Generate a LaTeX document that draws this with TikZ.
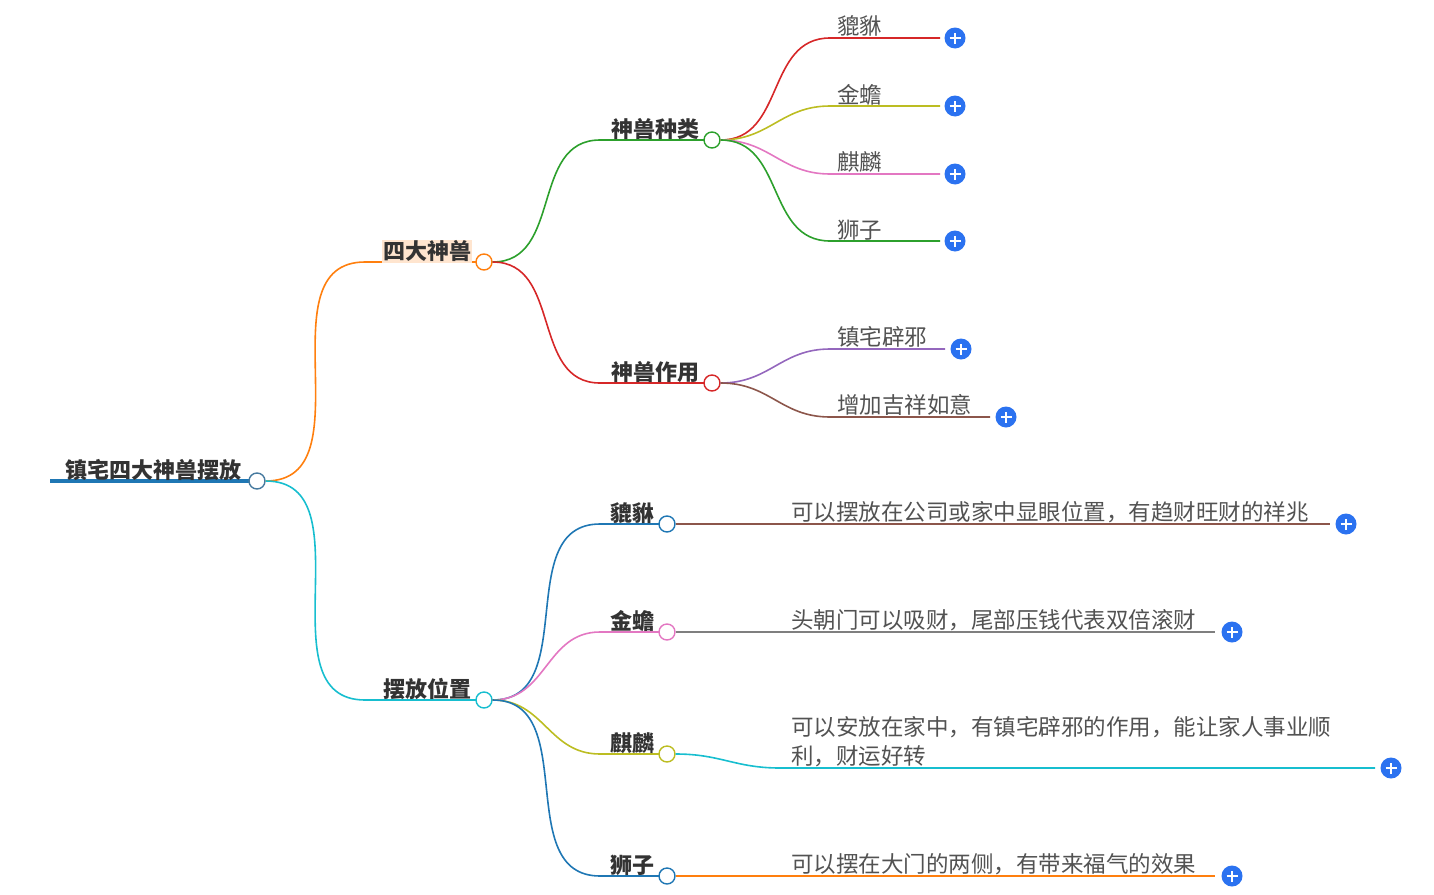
\documentclass[tikz,border=0pt]{standalone}
\usepackage{fontspec}
\setmainfont{Noto Sans CJK SC}
\definecolor{cblue}{HTML}{1F77B4}
\definecolor{corange}{HTML}{FF7F0E}
\definecolor{cgreen}{HTML}{2CA02C}
\definecolor{cred}{HTML}{D62728}
\definecolor{cpurple}{HTML}{9467BD}
\definecolor{cbrown}{HTML}{8C564B}
\definecolor{cpink}{HTML}{E377C2}
\definecolor{cgray}{HTML}{7F7F7F}
\definecolor{colive}{HTML}{BCBD22}
\definecolor{ccyan}{HTML}{17BECF}
\definecolor{cplus}{HTML}{2B72F0}
\definecolor{ctext}{HTML}{333333}
\begin{document}
\begin{tikzpicture}[
        x=1pt, y=-1pt,
        link/.style={line width=1.6pt, out=0, in=180, looseness=1.1},
        knob/.style={circle, draw, fill=white, line width=1.4pt, minimum size=16pt, inner sep=0pt},
        plus/.style={circle, fill=cplus, minimum size=21pt, inner sep=0pt, path picture={
                \draw[white, line width=1.8pt] ([xshift=-5.5pt]path picture bounding box.center) -- ([xshift=5.5pt]path picture bounding box.center);
                \draw[white, line width=1.8pt] ([yshift=-5.5pt]path picture bounding box.center) -- ([yshift=5.5pt]path picture bounding box.center);}},
        head/.style={font=\bfseries\fontsize{22}{24}\selectfont, text=ctext, inner sep=1pt, anchor=south},
        leaf/.style={font=\fontsize{22.5}{29}\selectfont, text=ctext!85, inner sep=1pt, anchor=south west},
    ]
    \useasboundingbox (0,0) rectangle (1434,894);

    % root
    \draw[cblue, line width=4pt] (50,481) -- (257,481);
    \node[head] (root) at (153,482) {镇宅四大神兽摆放};
    \node[knob, draw=cblue!60!gray] (rootk) at (257,481) {};

    % level 1
    \draw[corange, link] (rootk) to (365,262) -- (484,262);
    \node[head, fill=corange!20] (sdss) at (427,263) {四大神兽};
    \node[knob, draw=corange] (sdssk) at (484,262) {};
    \draw[ccyan, link] (rootk) to (365,700) -- (484,700);
    \node[head] (bfwz) at (427,701) {摆放位置};
    \node[knob, draw=ccyan] (bfwzk) at (484,700) {};

    % level 2 (四大神兽)
    \draw[cgreen, link] (sdssk) to (600,140) -- (712,140);
    \node[head] (zl) at (655,141) {神兽种类};
    \node[knob, draw=cgreen] (zlk) at (712,140) {};
    \draw[cred, link] (sdssk) to (600,383) -- (712,383);
    \node[head] (zy) at (655,384) {神兽作用};
    \node[knob, draw=cred] (zyk) at (712,383) {};

    % leaves of 神兽种类
    \foreach \name/\txt/\yy/\col in {a/貔貅/38/cred, b/金蟾/106/colive, c/麒麟/174/cpink, d/狮子/241/cgreen} {
        \draw[\col, link] (zlk) to (830,\yy) -- (940,\yy);
        \node[leaf] (zl\name) at (836,\yy) {\txt};
        \node[plus] (zlp\name) at (955,\yy) {};
    }

    % leaves of 神兽作用
    \draw[cpurple, link] (zyk) to (830,349) -- (945,349);
    \node[leaf] (zya) at (836,349) {镇宅辟邪};
    \node[plus] (zypa) at (961,349) {};
    \draw[cbrown, link] (zyk) to (830,417) -- (990,417);
    \node[leaf] (zyb) at (836,417) {增加吉祥如意};
    \node[plus] (zypb) at (1006,417) {};

    % level 2 (摆放位置)
    \foreach \name/\txt/\yy/\col in {a/貔貅/524/cblue, b/金蟾/632/cpink, c/麒麟/754/colive, d/狮子/876/cblue} {
        \draw[\col, link] (bfwzk) to (600,\yy) -- (667,\yy);
        \node[head] (wz\name) at (632,\yy+1) {\txt};
        \node[knob, draw=\col] (wzk\name) at (667,\yy) {};
    }

    % leaves of 摆放位置
    \draw[cbrown, line width=1.6pt] (wzka) -- (1330,524);
    \node[leaf] (wzta) at (790,524) {可以摆放在公司或家中显眼位置，有趋财旺财的祥兆};
    \node[plus] (wzpa) at (1346,524) {};
    \draw[cgray, line width=1.6pt] (wzkb) -- (1215,632);
    \node[leaf] (wztb) at (790,632) {头朝门可以吸财，尾部压钱代表双倍滚财};
    \node[plus] (wzpb) at (1232,632) {};
    \draw[ccyan, link] (wzkc) to (780,768) -- (1375,768);
    \node[leaf, align=left] (wztc) at (790,768) {可以安放在家中，有镇宅辟邪的作用，能让家人事业顺\\利，财运好转};
    \node[plus] (wzpc) at (1391,768) {};
    \draw[corange, line width=1.6pt] (wzkd) -- (1215,876);
    \node[leaf] (wztd) at (790,876) {可以摆在大门的两侧，有带来福气的效果};
    \node[plus] (wzpd) at (1232,876) {};
\end{tikzpicture}
\end{document}
